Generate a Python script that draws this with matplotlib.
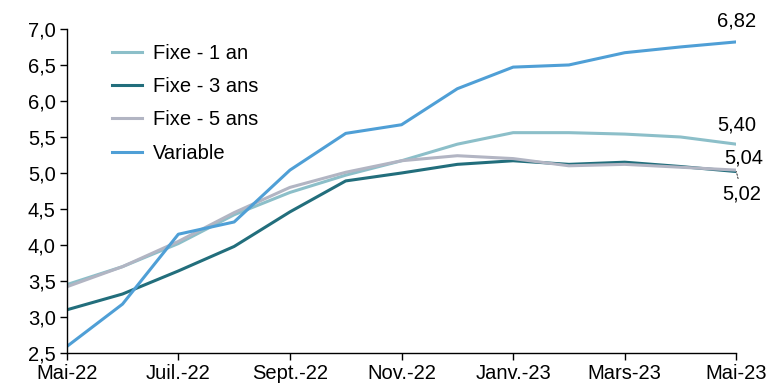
import matplotlib.pyplot as plt

plt.rcParams['font.family'] = ['Liberation Sans', 'DejaVu Sans']

# Monthly mortgage rates (%), May 2022 - May 2023
months = ["Mai-22", "Juin-22", "Juil.-22", "Août-22", "Sept.-22", "Oct.-22", "Nov.-22",
          "Déc.-22", "Janv.-23", "Févr.-23", "Mars-23", "Avr.-23", "Mai-23"]
fixe_1 = [3.45, 3.70, 4.02, 4.42, 4.73, 4.97, 5.17, 5.40, 5.56, 5.56, 5.54, 5.50, 5.40]
fixe_3 = [3.10, 3.32, 3.64, 3.98, 4.46, 4.89, 5.00, 5.12, 5.17, 5.12, 5.15, 5.09, 5.02]
fixe_5 = [3.42, 3.70, 4.05, 4.45, 4.80, 5.01, 5.17, 5.24, 5.20, 5.10, 5.12, 5.08, 5.04]
variable = [2.59, 3.18, 4.15, 4.32, 5.04, 5.55, 5.67, 6.17, 6.47, 6.50, 6.67, 6.75, 6.82]

FS = 14.5

fig = plt.figure(figsize=(7.67, 3.91), dpi=100)
ax = fig.add_axes([0.087, 0.097, 0.873, 0.829])

x = list(range(len(months)))
ax.plot(x, fixe_1, color="#8cbfc9", lw=2.2, label="Fixe - 1 an")
ax.plot(x, fixe_3, color="#226e7c", lw=2.2, label="Fixe - 3 ans")
ax.plot(x, fixe_5, color="#b2b5c3", lw=2.2, label="Fixe - 5 ans")
ax.plot(x, variable, color="#4f9fd6", lw=2.2, label="Variable")

# end labels
last = x[-1]
ax.annotate(f"{variable[-1]:.2f}".replace(".", ","), (last, variable[-1]),
            xytext=(0, 8), textcoords="offset points", ha="center", va="bottom", fontsize=FS)
ax.annotate(f"{fixe_1[-1]:.2f}".replace(".", ","), (last, fixe_1[-1]),
            xytext=(0, 7), textcoords="offset points", ha="center", va="bottom", fontsize=FS)
ax.annotate(f"{fixe_5[-1]:.2f}".replace(".", ","), (last, fixe_5[-1]),
            xytext=(5, 2), textcoords="offset points", ha="center", va="bottom", fontsize=FS)
ax.annotate(f"{fixe_3[-1]:.2f}".replace(".", ","), (last, fixe_3[-1]),
            xytext=(4, -9), textcoords="offset points", ha="center", va="top", fontsize=FS,
            arrowprops=dict(arrowstyle="-", color="black", lw=0.6, linestyle=(0, (2, 2)),
                            shrinkA=2, shrinkB=0))

ax.set_xlim(0, 12)
ax.set_ylim(2.5, 7.0)
ax.set_xticks(x[::2])
ax.set_xticklabels(months[::2])
ax.set_yticks([2.5 + 0.5 * i for i in range(10)])
ax.set_yticklabels([f"{2.5 + 0.5 * i:.1f}".replace(".", ",") for i in range(10)])
ax.tick_params(labelsize=FS, length=5, width=1, color="black", pad=3)

for side in ["top", "right"]:
    ax.spines[side].set_visible(False)
for side in ["left", "bottom"]:
    ax.spines[side].set_linewidth(1)
    ax.spines[side].set_color("black")

ax.legend(loc="upper left", bbox_to_anchor=(0.04, 1.01), frameon=False, fontsize=FS,
          handlelength=1.5, handletextpad=0.55, labelspacing=0.71)

ax.patch.set_visible(False)
fig.savefig("out.png", dpi=100)
